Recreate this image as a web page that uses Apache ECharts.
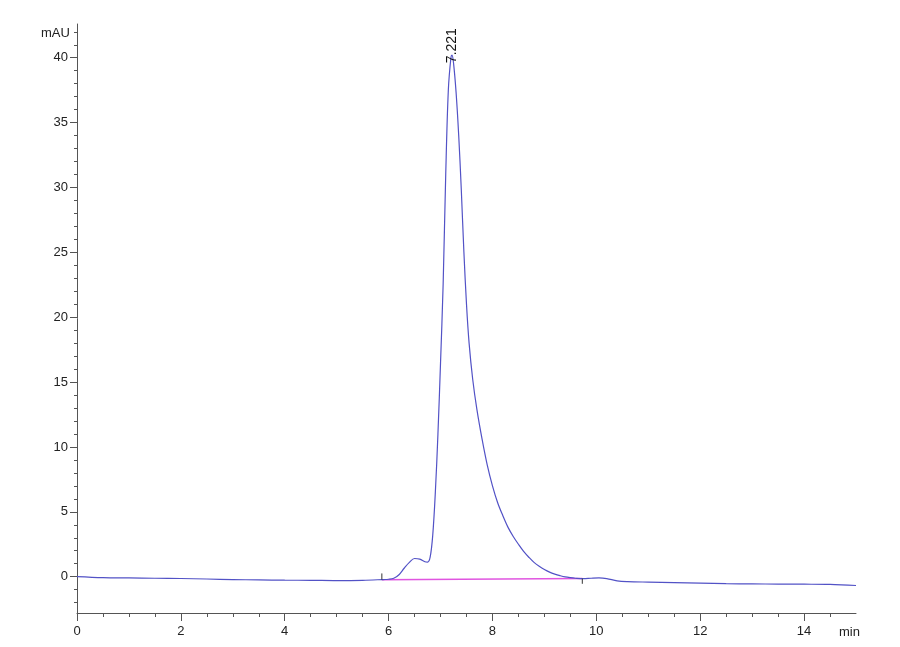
<!DOCTYPE html>
<html>
<head>
<meta charset="utf-8">
<script src="https://cdn.jsdelivr.net/npm/echarts@6/dist/echarts.min.js"></script>
<style>
html,body{margin:0;padding:0;background:#fff;}
#chart{width:900px;height:647px;}
</style>
</head>
<body>
<div id="chart"></div>
<script>
// retention time (min) and signal (mAU)
var timeList = [0, 0.5, 1.0, 1.5, 2.0, 2.5, 3.0, 3.5, 4.0, 4.5, 5.0, 5.5, 5.9, 6.0, 6.1, 6.2, 6.3, 6.4, 6.5, 6.6, 6.7, 6.75, 6.8, 6.85, 6.9, 6.95, 7.0, 7.05, 7.1, 7.15, 7.2, 7.221, 7.25, 7.3, 7.35, 7.4, 7.45, 7.5, 7.55, 7.62, 7.7, 7.8, 7.9, 8.0, 8.1, 8.2, 8.3, 8.4, 8.5, 8.6, 8.7, 8.8, 8.9, 9.0, 9.1, 9.2, 9.3, 9.4, 9.5, 9.6, 9.75, 9.9, 10.05, 10.2, 10.4, 10.6, 11.0, 11.5, 12.0, 12.5, 13.0, 13.5, 14.0, 14.5, 15.0];
var signalList = [0.0, -0.08, -0.1, -0.12, -0.14, -0.18, -0.22, -0.25, -0.27, -0.28, -0.3, -0.28, -0.22, -0.2, -0.12, 0.15, 0.65, 1.1, 1.4, 1.35, 1.15, 1.12, 1.5, 3.2, 6.5, 11.0, 16.5, 22.5, 31, 37.5, 40.0, 40.2, 39.6, 37.3, 34.0, 29.8, 25.0, 21.0, 18.0, 15.2, 12.9, 10.6, 8.6, 7.0, 5.7, 4.7, 3.8, 3.1, 2.5, 1.95, 1.5, 1.1, 0.8, 0.55, 0.35, 0.2, 0.08, -0.02, -0.08, -0.12, -0.15, -0.12, -0.1, -0.15, -0.32, -0.38, -0.42, -0.46, -0.5, -0.54, -0.56, -0.57, -0.58, -0.6, -0.68];
// integration baseline and its start / end marks
var baseTime = [5.87, 9.73];
var baseSignal = [-0.23, -0.15];
var startMark = [-0.23, 0.25];
var endMark = [-0.15, -0.55];
var peakTime = 7.221;
var peakHeight = 40.2;
// axis ticks
var xMajor = [0, 2, 4, 6, 8, 10, 12, 14];
var yMajor = [0, 5, 10, 15, 20, 25, 30, 35, 40];
var yMinor = [-2, -1, 0, 1, 2, 3, 4, 6, 7, 8, 9, 11, 12, 13, 14, 16, 17, 18, 19, 21, 22, 23, 24, 26, 27, 28, 29, 31, 32, 33, 34, 36, 37, 38, 39, 41, 42];

var chromData = [];
for (var i = 0; i < timeList.length; i++) {
	chromData.push([timeList[i], signalList[i]]);
}
var baseData = [];
for (var j = 0; j < baseTime.length; j++) {
	baseData.push([baseTime[j], baseSignal[j]]);
}

var fontName = "'Liberation Sans Narrow', 'Liberation Sans', Arial, sans-serif";
var axisColor = '#555';

var myChart = echarts.init(document.getElementById('chart'));
var option = {
	animation: false,
	backgroundColor: '#fff',
	grid: {
		left: 77,
		right: 44,
		top: 24,
		bottom: 34
	},
	xAxis: [
		{
			type: 'value',
			min: 0,
			max: 15,
			interval: 2,
			splitLine: { show: false },
			axisLine: { show: true, onZero: false, lineStyle: { color: axisColor, width: 1 } },
			axisTick: { show: true, customValues: xMajor, length: 8, lineStyle: { color: axisColor } },
			minorTick: { show: true, splitNumber: 4, length: 4, lineStyle: { color: axisColor } },
			axisLabel: { customValues: xMajor, margin: 12, color: '#222', fontSize: 13, fontFamily: fontName }
		}
	],
	yAxis: [
		{
			type: 'value',
			min: -2.8,
			max: 42.6,
			splitLine: { show: false },
			axisLine: { show: true, onZero: false, lineStyle: { color: axisColor, width: 1 } },
			axisTick: { show: true, customValues: yMajor, length: 7, lineStyle: { color: axisColor } },
			axisLabel: { customValues: yMajor, margin: 9, color: '#222', fontSize: 13, fontFamily: fontName }
		},
		{
			type: 'value',
			position: 'left',
			min: -2.8,
			max: 42.6,
			splitLine: { show: false },
			axisLine: { show: false },
			axisTick: { show: true, customValues: yMinor, length: 3, lineStyle: { color: axisColor } },
			axisLabel: { show: false }
		}
	],
	graphic: [
		{
			type: 'text',
			left: 41,
			top: 27,
			style: { text: 'mAU', fill: '#222', font: '13px ' + fontName }
		},
		{
			type: 'text',
			left: 839,
			top: 626,
			style: { text: 'min', fill: '#222', font: '13px ' + fontName }
		}
	],
	series: [
		{
			name: 'baseline',
			type: 'line',
			data: baseData,
			showSymbol: false,
			lineStyle: { color: '#e055e0', width: 1.5 },
			z: 2
		},
		{
			name: 'start',
			type: 'line',
			data: [[baseTime[0], startMark[0]], [baseTime[0], startMark[1]]],
			showSymbol: false,
			lineStyle: { color: '#333', width: 1 },
			z: 4
		},
		{
			name: 'end',
			type: 'line',
			data: [[baseTime[1], endMark[0]], [baseTime[1], endMark[1]]],
			showSymbol: false,
			lineStyle: { color: '#333', width: 1 },
			z: 4
		},
		{
			name: 'signal',
			type: 'line',
			data: chromData,
			showSymbol: false,
			smooth: 0.35,
			lineStyle: { color: '#5252c6', width: 1.2 },
			z: 3,
			markPoint: {
				symbol: 'circle',
				symbolSize: 0,
				data: [{ coord: [peakTime, peakHeight] }],
				label: {
					show: true,
					formatter: String(peakTime),
					position: 'inside',
					rotate: 90,
					align: 'left',
					verticalAlign: 'middle',
					offset: [-8, 0],
					color: '#111',
					fontSize: 14,
					fontFamily: fontName
				}
			}
		}
	]
};
myChart.setOption(option);
</script>
</body>
</html>
